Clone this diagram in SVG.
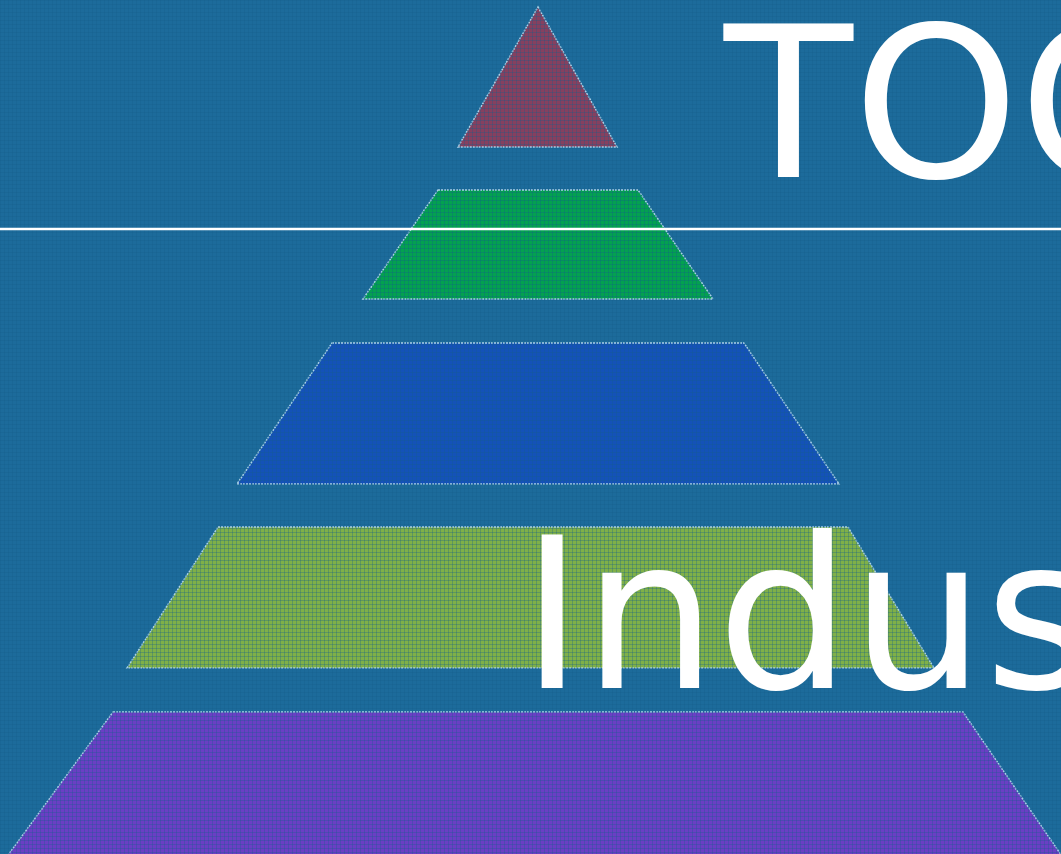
<svg xmlns="http://www.w3.org/2000/svg" width="1061" height="854" viewBox="0 0 1061 854">
<style>
.tier{stroke:#a9d0e6;stroke-width:1.5;stroke-dasharray:2 1}
.big{font-family:"DejaVu Sans",Verdana,sans-serif;font-size:211px;fill:#ffffff}
</style>
<defs>
<pattern id="tex" width="4" height="4" patternUnits="userSpaceOnUse">
<rect x="0" y="0" width="4" height="1" fill="#145e8c" opacity="0.3"/>
<rect x="0" y="0" width="1" height="4" fill="#145e8c" opacity="0.3"/>
</pattern>
</defs>
<rect width="1061" height="854" fill="#1c6b9b"/>
<g id="tier1"><polygon class="tier" points="538,7 617,147 458,147" fill="#86405f"/></g>
<g id="tier2"><polygon class="tier" points="438,190 638,190 713,299 363,299" fill="#03a150"/></g>
<g id="tier3"><polygon class="tier" points="332,343 744,343 839,484 237,484" fill="#1452b8"/></g>
<g id="tier4"><polygon class="tier" points="218,527 848,527 934,668 127,668" fill="#7fb048"/></g>
<g id="tier5"><polygon class="tier" points="113,712 963,712 1066,862 3,862" fill="#6a3fc4"/></g>
<rect width="1061" height="854" fill="url(#tex)"/>
<g id="connectors"><line x1="0" y1="229" x2="1061" y2="229" stroke="#ffffff" stroke-width="2.5"/></g>
<g id="title"><text class="big" x="724" y="177">TOO</text></g>
<g id="label"><text class="big" x="521" y="688">Indus</text></g>
</svg>
